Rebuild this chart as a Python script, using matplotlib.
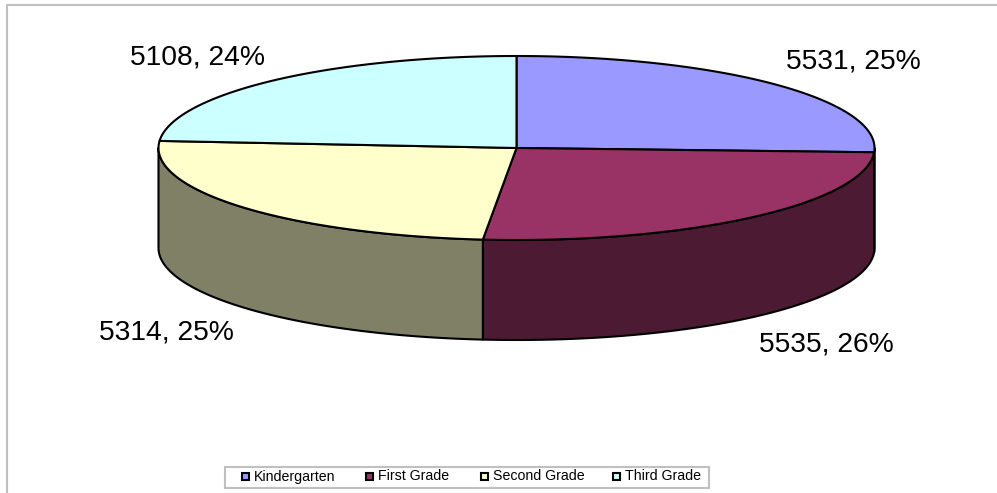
import matplotlib
matplotlib.use('Agg')
import matplotlib.pyplot as plt
from matplotlib.patches import Polygon, Rectangle
import numpy as np

# data
categories = ['Kindergarten', 'First Grade', 'Second Grade', 'Third Grade']
values = [5531, 5535, 5314, 5108]
percents = [25, 26, 25, 24]
top_colors = ['#9999FF', '#993366', '#FFFFCC', '#CCFFFF']
side_colors = ['#4D4D80', '#4D1A33', '#808066', '#668080']

# pie geometry, in pixels
cx, cy = 516.5, 148
rx, ry = 358, 92
depth = 100
label_pos = [(853, 61.5), (826, 344.5), (166, 332.5), (197, 57.5)]

fig = plt.figure(figsize=(9.97, 4.93), dpi=100)
ax = fig.add_axes([0, 0, 1, 1])
ax.set_xlim(0, 997)
ax.set_ylim(493, 0)
ax.axis('off')

# chart border, only top and left show in the picture
ax.plot([6.5, 6.5, 997], [493, 4.5, 4.5], color='#C0C0C0', lw=1.5)


def rim(a0, a1):
    # angles clockwise from 12 o'clock
    t = np.linspace(a0, a1, 200)
    return cx + rx * np.sin(t), cy - ry * np.cos(t)


edges = np.concatenate([[0], np.cumsum(values)]) / sum(values) * 2 * np.pi

# side walls, only the front half of the ellipse
for i in range(len(values)):
    a0 = max(edges[i], np.pi / 2)
    a1 = min(edges[i + 1], 3 * np.pi / 2)
    if a1 <= a0:
        continue
    x, y = rim(a0, a1)
    pts = np.r_[np.c_[x, y], np.c_[x[::-1], y[::-1] + depth]]
    ax.add_patch(Polygon(pts, closed=True, facecolor=side_colors[i],
                         edgecolor='black', lw=1.5, joinstyle='round'))

# top faces
for i in range(len(values)):
    x, y = rim(edges[i], edges[i + 1])
    pts = np.r_[[[cx, cy]], np.c_[x, y]]
    ax.add_patch(Polygon(pts, closed=True, facecolor=top_colors[i],
                         edgecolor='black', lw=1.5, joinstyle='round'))

# data labels
for i in range(len(values)):
    ax.text(label_pos[i][0], label_pos[i][1], f'{values[i]}, {percents[i]}%',
            ha='center', va='center', fontsize=20.3, family='Liberation Sans', color='black')

# legend box
ax.add_patch(Rectangle((224.5, 466.5), 484, 21, facecolor='white', edgecolor='#C0C0C0', lw=1.5))
leg_sq = [245.5, 369.5, 484, 616]
for i in range(len(categories)):
    ax.add_patch(Rectangle((leg_sq[i] - 3.5, 472.5), 7, 7, facecolor=top_colors[i],
                           edgecolor='black', lw=1.5))
    ax.text(leg_sq[i] + 8.5, 476.5, categories[i], ha='left', va='center', fontsize=10.2,
            family='Liberation Sans', color='black')

fig.savefig('out.png', dpi=100, facecolor='white')
